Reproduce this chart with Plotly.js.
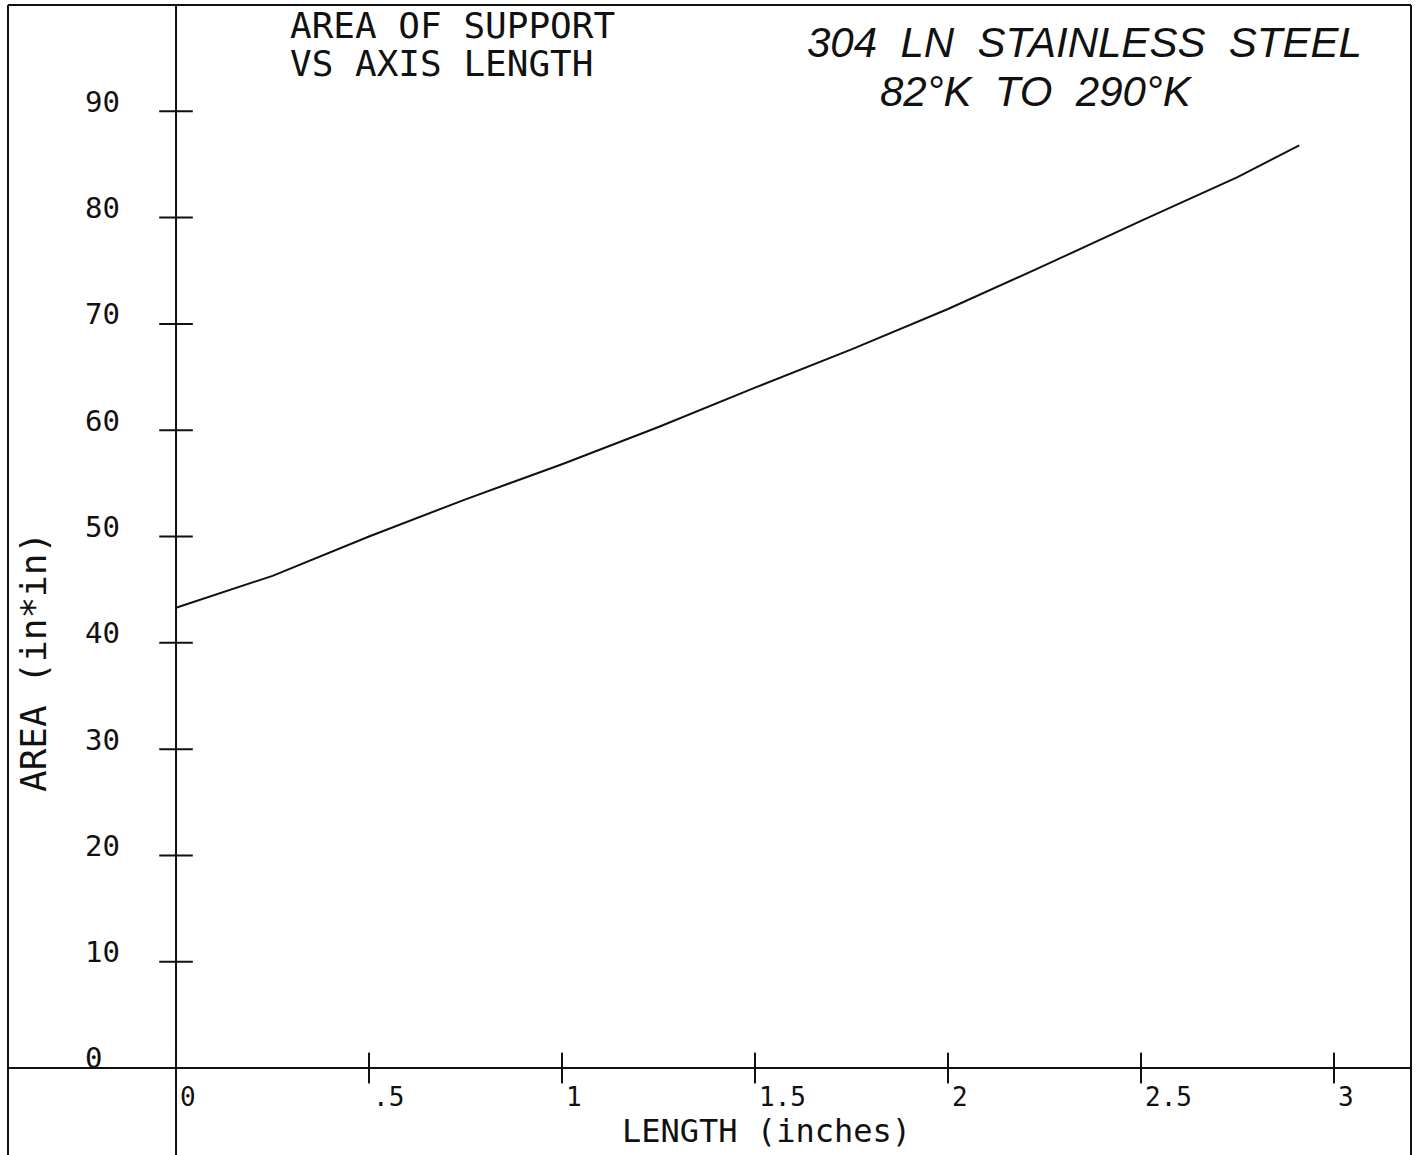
<!DOCTYPE html>
<html>
<head>
<meta charset="utf-8">
<script src="https://cdn.plot.ly/plotly-3.0.1.min.js"></script>
<style>html,body{margin:0;padding:0;background:#fff;}#chart{width:1416px;height:1155px;}</style>
</head>
<body>
<div id="chart"></div>
<script>
// ---- data ----
const lengthInches = [0, 0.25, 0.5, 0.75, 1.0, 1.25, 1.5, 1.75, 2.0, 2.25, 2.5, 2.75, 2.91];
const areaSqIn     = [43.3, 46.3, 50.0, 53.5, 56.8, 60.3, 64.0, 67.6, 71.4, 75.5, 79.7, 83.8, 86.8];

const xTickVals  = [0, 0.5, 1, 1.5, 2, 2.5, 3];
const xTickText  = ['0', '.5', '1', '1.5', '2', '2.5', '3'];
const yTickVals  = [0, 10, 20, 30, 40, 50, 60, 70, 80, 90];
const yTickText  = ['0', '10', '20', '30', '40', '50', '60', '70', '80', '90'];

const titleLines = ['AREA OF SUPPORT', 'VS AXIS LENGTH'];
const noteLines  = ['304  LN  STAINLESS  STEEL', '82°K  TO  290°K'];
const xTitle = 'LENGTH (inches)';
const yTitle = 'AREA (in*in)';

// ---- styling ----
const mono = 'DejaVu Sans Mono, monospace';
const hand = 'Liberation Sans, sans-serif';
const ink = '#111';

const traces = [
  {
    x: lengthInches, y: areaSqIn, type: 'scatter', mode: 'lines',
    line: {color: ink, width: 2}, hoverinfo: 'skip', showlegend: false
  },
  {
    x: xTickVals, y: xTickVals.map(() => 0), type: 'scatter', mode: 'markers',
    marker: {symbol: 'line-ns-open', size: 22, color: ink, line: {color: ink, width: 2}},
    hoverinfo: 'skip', showlegend: false
  },
  {
    x: yTickVals.map(() => 0), y: yTickVals, type: 'scatter', mode: 'markers',
    marker: {symbol: 'line-ew-open', size: 24, color: ink, line: {color: ink, width: 2}},
    hoverinfo: 'skip', showlegend: false
  }
];

const annotations = [];
xTickVals.forEach((v, i) => annotations.push({
  x: v + 0.004, y: -2.7, xref: 'x', yref: 'y', text: xTickText[i], showarrow: false,
  xanchor: 'left', yanchor: 'middle', font: {family: mono, size: 26, color: ink}
}));
yTickVals.forEach((v, i) => annotations.push({
  x: -0.24, y: v + 0.9, xref: 'x', yref: 'y', text: yTickText[i], showarrow: false,
  xanchor: 'left', yanchor: 'middle', font: {family: mono, size: 29, color: ink}
}));
annotations.push(
  {x: 288/1416, y: 1 - 26/1155, xref: 'paper', yref: 'paper', text: titleLines[0], showarrow: false,
   xanchor: 'left', yanchor: 'middle', font: {family: mono, size: 36, color: ink}},
  {x: 288/1416, y: 1 - 64/1155, xref: 'paper', yref: 'paper', text: titleLines[1], showarrow: false,
   xanchor: 'left', yanchor: 'middle', font: {family: mono, size: 36, color: ink}},
  {x: 805/1416, y: 1 - 42/1155, xref: 'paper', yref: 'paper', text: noteLines[0], showarrow: false,
   xanchor: 'left', yanchor: 'middle', font: {family: hand, size: 42, style: 'italic', color: ink}},
  {x: 878/1416, y: 1 - 92/1155, xref: 'paper', yref: 'paper', text: noteLines[1], showarrow: false,
   xanchor: 'left', yanchor: 'middle', font: {family: hand, size: 42, style: 'italic', color: ink}},
  {x: 620/1416, y: 1 - 1131/1155, xref: 'paper', yref: 'paper', text: xTitle, showarrow: false,
   xanchor: 'left', yanchor: 'middle', font: {family: mono, size: 32, color: ink}},
  {x: 33/1416, y: 1 - 662/1155, xref: 'paper', yref: 'paper', text: yTitle, showarrow: false, textangle: -90,
   xanchor: 'center', yanchor: 'middle', font: {family: mono, size: 36, color: ink}}
);

const fl = 8/1416, fr = 1411/1416, ft = 1 - 5/1155;
const shapes = [
  // frame
  {type: 'line', xref: 'paper', yref: 'paper', x0: fl, x1: fr, y0: ft, y1: ft, line: {color: ink, width: 2}},
  {type: 'line', xref: 'paper', yref: 'paper', x0: fl, x1: fl, y0: 0, y1: ft, line: {color: ink, width: 2}},
  {type: 'line', xref: 'paper', yref: 'paper', x0: fr, x1: fr, y0: 0, y1: ft, line: {color: ink, width: 2}},
  // axes
  {type: 'line', xref: 'paper', yref: 'y', x0: fl, x1: fr, y0: 0, y1: 0, line: {color: ink, width: 2}},
  {type: 'line', xref: 'x', yref: 'paper', x0: 0, x1: 0, y0: 0, y1: ft, line: {color: ink, width: 2}}
];

const layout = {
  width: 1416, height: 1155,
  margin: {l: 0, r: 0, t: 0, b: 0, pad: 0},
  paper_bgcolor: '#fff', plot_bgcolor: '#fff',
  showlegend: false,
  xaxis: {range: [-0.456, 3.2124], showgrid: false, zeroline: false, showticklabels: false, ticks: '', showline: false},
  yaxis: {range: [-8.18, 100.47], showgrid: false, zeroline: false, showticklabels: false, ticks: '', showline: false},
  annotations: annotations,
  shapes: shapes
};

Plotly.newPlot('chart', traces, layout, {displayModeBar: false, staticPlot: true});
</script>
</body>
</html>
